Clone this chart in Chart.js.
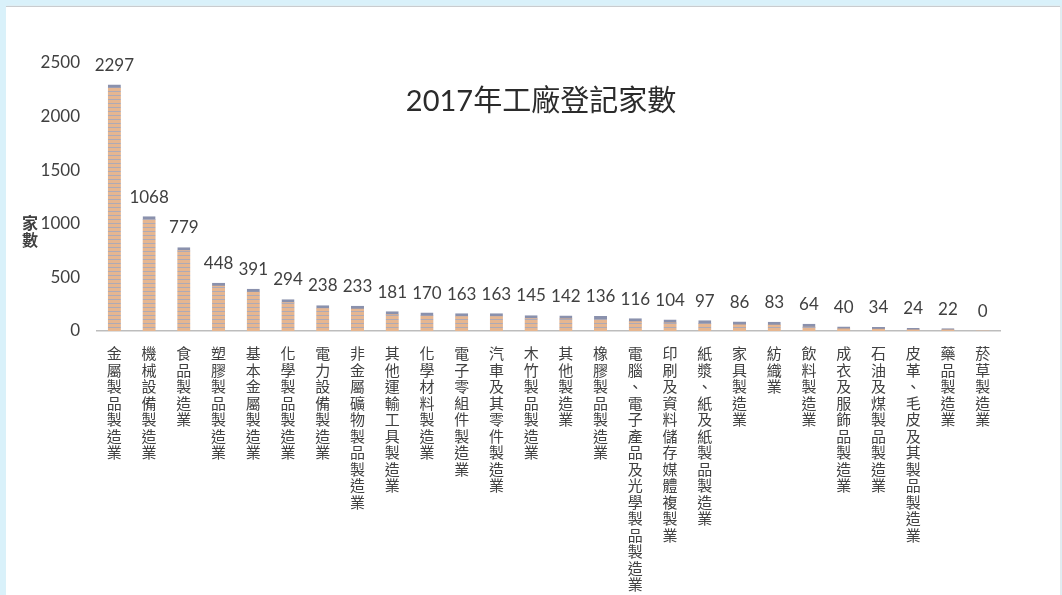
<!DOCTYPE html>
<html>
<head>
<meta charset="utf-8">
<script src="https://cdn.jsdelivr.net/npm/chart.js@4/dist/chart.umd.min.js"></script>
<style>
  html, body { margin: 0; padding: 0; width: 1062px; height: 595px; overflow: hidden; background: #d9f1fa; }
  #panel { position: absolute; left: 6px; top: 6px; width: 1054px; height: 600px; background: #fff; border-top: 1px solid #c9cccf; box-shadow: 1px 0 2px #e8e8e8; }
  #wrap { position: absolute; left: 0; top: 0; width: 1062px; height: 595px; }
</style>
</head>
<body>
<div id="panel"></div>
<div id="wrap"><canvas id="chart" width="1062" height="595"></canvas></div>
<script>
const categories = [
  "金屬製品製造業", "機械設備製造業", "食品製造業", "塑膠製品製造業", "基本金屬製造業",
  "化學製品製造業", "電力設備製造業", "非金屬礦物製品製造業", "其他運輸工具製造業", "化學材料製造業",
  "電子零組件製造業", "汽車及其零件製造業", "木竹製品製造業", "其他製造業", "橡膠製品製造業",
  "電腦、電子產品及光學製品製造業", "印刷及資料儲存媒體複製業", "紙漿、紙及紙製品製造業", "家具製造業", "紡織業",
  "飲料製造業", "成衣及服飾品製造業", "石油及煤製品製造業", "皮革、毛皮及其製品製造業", "藥品製造業",
  "菸草製造業"
];
const factoryCounts = [
  2297, 1068, 779, 448, 391, 294, 238, 233, 181, 170, 163, 163, 145, 142, 136,
  116, 104, 97, 86, 83, 64, 40, 34, 24, 22, 0
];
const yTicks = [0, 500, 1000, 1500, 2000, 2500];
const chartTitle = "2017年工廠登記家數";
const yTitle = ["家", "數"];

const fontFamily = "Lato, 'Noto Sans CJK TC', sans-serif";
const textColor = "#404040";

// striped fill like the original bars
function makeStripes() {
  const c = document.createElement("canvas");
  c.width = 4;
  c.height = 4;
  const g = c.getContext("2d");
  g.fillStyle = "#e6b690";
  g.fillRect(0, 0, 4, 3);
  g.fillStyle = "#aeaab6";
  g.fillRect(0, 3, 4, 1);
  return g.createPattern(c, "repeat");
}

const extraText = {
  id: "extraText",
  afterDatasetsDraw(chart) {
    const ctx = chart.ctx;
    const meta = chart.getDatasetMeta(0);
    ctx.save();
    ctx.fillStyle = textColor;
    ctx.font = "17px " + fontFamily;
    ctx.textAlign = "center";
    ctx.textBaseline = "alphabetic";
    meta.data.forEach((bar, i) => {
      ctx.fillText(String(factoryCounts[i]), bar.x, bar.y - 14);
    });

    ctx.fillStyle = "#2b2b2b";
    ctx.font = "29px " + fontFamily;
    ctx.textBaseline = "middle";
    ctx.fillText(chartTitle, 541, 102);

    ctx.fillStyle = textColor;
    ctx.font = "bold 16px " + fontFamily;
    yTitle.forEach((ch, i) => ctx.fillText(ch, 30, 224 + i * 17));
    ctx.restore();
  }
};

new Chart(document.getElementById("chart"), {
  type: "bar",
  data: {
    labels: categories.map((name) => Array.from(name)),
    datasets: [
      {
        data: factoryCounts,
        backgroundColor: makeStripes(),
        borderColor: "#8a91ad",
        borderWidth: { top: 3, left: 0, right: 0, bottom: 0 },
        borderSkipped: "start",
        barThickness: 13,
      },
    ],
  },
  options: {
    responsive: false,
    animation: false,
    layout: { padding: { top: 63, right: 62, left: 0, bottom: 0 } },
    plugins: {
      legend: { display: false },
      tooltip: { enabled: false },
    },
    scales: {
      x: {
        grid: { display: false },
        border: { display: true, color: "#bdbdbd", width: 1.5 },
        ticks: {
          autoSkip: false,
          maxRotation: 0,
          minRotation: 0,
          padding: 7,
          color: textColor,
          font: { family: fontFamily, size: 15, lineHeight: 1.1 },
        },
        afterFit(scale) {
          scale.height = 264;
        },
      },
      y: {
        min: yTicks[0],
        max: yTicks[yTicks.length - 1],
        grid: { display: false },
        border: { display: false },
        afterBuildTicks(scale) {
          scale.ticks = yTicks.map((v) => ({ value: v }));
        },
        ticks: {
          padding: 9,
          color: textColor,
          font: { family: fontFamily, size: 17 },
          callback: (value) => String(value),
        },
        afterFit(scale) {
          scale.width = 97;
        },
      },
    },
  },
  plugins: [extraText],
});
</script>
</body>
</html>
